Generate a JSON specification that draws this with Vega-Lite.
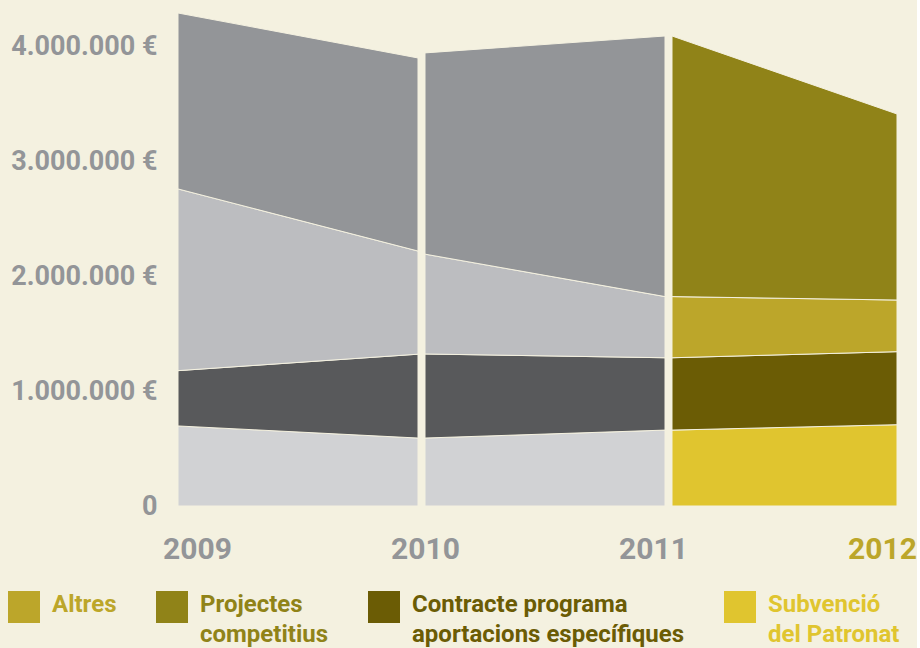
{
  "$schema": "https://vega.github.io/schema/vega-lite/v6.json",
  "background": "#f4f1e0",
  "padding": {"left": 8, "top": 0, "right": 0, "bottom": 6},
  "config": {"view": {"stroke": null}, "font": "Roboto", "style": {"guide-label": {"lineHeight": 30, "dy": 5}}},
  "data": {"values": [
    {"seg": 1, "year": 2009, "cat": "Subvenció del Patronat", "serie": "Subvenció del Patronat 2009-2011", "rank": 1, "value": 696000},
    {"seg": 1, "year": 2009, "cat": "Contracte programa aportacions específiques", "serie": "Contracte programa 2009-2011", "rank": 2, "value": 481000},
    {"seg": 1, "year": 2009, "cat": "Altres", "serie": "Altres 2009-2011", "rank": 3, "value": 1580000},
    {"seg": 1, "year": 2009, "cat": "Projectes competitius", "serie": "Projectes competitius 2009-2011", "rank": 4, "value": 1530000},
    {"seg": 1, "year": 2010, "cat": "Subvenció del Patronat", "serie": "Subvenció del Patronat 2009-2011", "rank": 1, "value": 591000},
    {"seg": 1, "year": 2010, "cat": "Contracte programa aportacions específiques", "serie": "Contracte programa 2009-2011", "rank": 2, "value": 729000},
    {"seg": 1, "year": 2010, "cat": "Altres", "serie": "Altres 2009-2011", "rank": 3, "value": 897000},
    {"seg": 1, "year": 2010, "cat": "Projectes competitius", "serie": "Projectes competitius 2009-2011", "rank": 4, "value": 1679000},
    {"seg": 2, "year": 2010, "cat": "Subvenció del Patronat", "serie": "Subvenció del Patronat 2009-2011", "rank": 1, "value": 591000},
    {"seg": 2, "year": 2010, "cat": "Contracte programa aportacions específiques", "serie": "Contracte programa 2009-2011", "rank": 2, "value": 731000},
    {"seg": 2, "year": 2010, "cat": "Altres", "serie": "Altres 2009-2011", "rank": 3, "value": 868000},
    {"seg": 2, "year": 2010, "cat": "Projectes competitius", "serie": "Projectes competitius 2009-2011", "rank": 4, "value": 1750000},
    {"seg": 2, "year": 2011, "cat": "Subvenció del Patronat", "serie": "Subvenció del Patronat 2009-2011", "rank": 1, "value": 660000},
    {"seg": 2, "year": 2011, "cat": "Contracte programa aportacions específiques", "serie": "Contracte programa 2009-2011", "rank": 2, "value": 629000},
    {"seg": 2, "year": 2011, "cat": "Altres", "serie": "Altres 2009-2011", "rank": 3, "value": 532000},
    {"seg": 2, "year": 2011, "cat": "Projectes competitius", "serie": "Projectes competitius 2009-2011", "rank": 4, "value": 2266000},
    {"seg": 3, "year": 2011, "cat": "Subvenció del Patronat", "serie": "Subvenció del Patronat", "rank": 1, "value": 660000},
    {"seg": 3, "year": 2011, "cat": "Contracte programa aportacions específiques", "serie": "Contracte programa aportacions específiques", "rank": 2, "value": 629000},
    {"seg": 3, "year": 2011, "cat": "Altres", "serie": "Altres", "rank": 3, "value": 532000},
    {"seg": 3, "year": 2011, "cat": "Projectes competitius", "serie": "Projectes competitius", "rank": 4, "value": 2266000},
    {"seg": 3, "year": 2012, "cat": "Subvenció del Patronat", "serie": "Subvenció del Patronat", "rank": 1, "value": 707000},
    {"seg": 3, "year": 2012, "cat": "Contracte programa aportacions específiques", "serie": "Contracte programa aportacions específiques", "rank": 2, "value": 635000},
    {"seg": 3, "year": 2012, "cat": "Altres", "serie": "Altres", "rank": 3, "value": 449000},
    {"seg": 3, "year": 2012, "cat": "Projectes competitius", "serie": "Projectes competitius", "rank": 4, "value": 1618000}
  ]},
  "bounds": "flush",
  "spacing": 7,
  "resolve": {"scale": {"color": "shared"}},
  "hconcat": [
    {
      "width": 240, "height": 506,
      "transform": [{"filter": "datum.seg == 1"}],
      "mark": {"type": "area", "stroke": "#f4f1e0", "strokeWidth": 1, "opacity": 1},
      "encoding": {
        "x": {"field": "year", "type": "quantitative", "scale": {"domain": [2009, 2010], "nice": false, "zero": false},
          "axis": {"values": [2009], "title": null, "grid": false, "ticks": false, "tickSize": 0, "domain": false, "labelFlush": false, "labelOverlap": false,
            "labelOffset": 19, "labelPadding": 23, "labelFont": "Roboto", "labelFontSize": 30, "labelFontWeight": "bold", "labelColor": "#939598", "format": "d"}},
        "y": {"field": "value", "type": "quantitative", "stack": "zero", "scale": {"domain": [0, 4400000], "nice": false},
          "axis": {"values": [0, 1000000, 2000000, 3000000, 4000000], "title": null, "grid": false, "ticks": false, "tickSize": 0, "domain": false,
            "labelPadding": 21, "labelOffset": -5, "labelFont": "Roboto", "labelFontSize": 27, "labelFontWeight": "bold", "labelColor": "#939598",
            "labelExpr": "datum.value == 0 ? '0' : replace(replace(format(datum.value, ','), ',', '.'), ',', '.') + ' €'"}},
        "color": {"field": "serie", "type": "nominal",
          "scale": {"domain": ["Altres", "Projectes competitius", "Contracte programa aportacions específiques", "Subvenció del Patronat", "Altres 2009-2011", "Projectes competitius 2009-2011", "Contracte programa 2009-2011", "Subvenció del Patronat 2009-2011"],
            "range": ["#bca62a", "#908318", "#6b5c05", "#e0c52f", "#bcbdc0", "#939598", "#58595b", "#d1d2d4"]},
          "legend": {"orient": "none", "legendX": -170, "legendY": 591, "direction": "horizontal", "columns": 4, "title": null,
            "values": ["Altres", "Projectes competitius", "Contracte programa aportacions específiques", "Subvenció del Patronat"],
            "symbolType": "square", "symbolSize": 1024, "symbolStrokeWidth": 0, "symbolOpacity": 1,
            "labelFont": "Roboto", "labelFontSize": 24, "labelFontWeight": "bold", "labelOffset": 12, "columnPadding": 39, "labelLimit": 400, "labelBaseline": "alphabetic", "padding": 0,
            "labelColor": {"expr": "datum.value == 'Altres' ? '#bca62a' : datum.value == 'Projectes competitius' ? '#908318' : datum.value == 'Subvenció del Patronat' ? '#e0c52f' : '#6b5c05'"},
            "labelExpr": "datum.label == 'Projectes competitius' ? ['Projectes', 'competitius'] : datum.label == 'Contracte programa aportacions específiques' ? ['Contracte programa', 'aportacions específiques'] : datum.label == 'Subvenció del Patronat' ? ['Subvenció', 'del Patronat'] : [datum.label, '']"}},
        "order": {"field": "rank", "type": "quantitative"}
      }
    },
    {
      "width": 240, "height": 506,
      "transform": [{"filter": "datum.seg == 2"}],
      "mark": {"type": "area", "stroke": "#f4f1e0", "strokeWidth": 1, "opacity": 1},
      "encoding": {
        "x": {"field": "year", "type": "quantitative", "scale": {"domain": [2010, 2011], "nice": false, "zero": false},
          "axis": {"values": [2010, 2011], "title": null, "grid": false, "ticks": false, "tickSize": 0, "domain": false, "labelFlush": false, "labelOverlap": false,
            "labelOffset": {"condition": {"test": "datum.value == 2010", "value": 0}, "value": -12},
            "labelPadding": 23, "labelFont": "Roboto", "labelFontSize": 30, "labelFontWeight": "bold", "labelColor": "#939598", "format": "d"}},
        "y": {"field": "value", "type": "quantitative", "stack": "zero", "scale": {"domain": [0, 4400000], "nice": false}, "axis": null},
        "color": {"field": "serie", "type": "nominal",
          "scale": {"domain": ["Altres", "Projectes competitius", "Contracte programa aportacions específiques", "Subvenció del Patronat", "Altres 2009-2011", "Projectes competitius 2009-2011", "Contracte programa 2009-2011", "Subvenció del Patronat 2009-2011"],
            "range": ["#bca62a", "#908318", "#6b5c05", "#e0c52f", "#bcbdc0", "#939598", "#58595b", "#d1d2d4"]}},
        "order": {"field": "rank", "type": "quantitative"}
      }
    },
    {
      "width": 225, "height": 506,
      "transform": [{"filter": "datum.seg == 3"}],
      "mark": {"type": "area", "stroke": "#f4f1e0", "strokeWidth": 1, "opacity": 1},
      "encoding": {
        "x": {"field": "year", "type": "quantitative", "scale": {"domain": [2011, 2012], "nice": false, "zero": false},
          "axis": {"values": [2012], "title": null, "grid": false, "ticks": false, "tickSize": 0, "domain": false, "labelFlush": false, "labelOverlap": false,
            "labelOffset": -15, "labelPadding": 23, "labelFont": "Roboto", "labelFontSize": 30, "labelFontWeight": "bold", "labelColor": "#bca62a", "format": "d"}},
        "y": {"field": "value", "type": "quantitative", "stack": "zero", "scale": {"domain": [0, 4400000], "nice": false}, "axis": null},
        "color": {"field": "serie", "type": "nominal",
          "scale": {"domain": ["Altres", "Projectes competitius", "Contracte programa aportacions específiques", "Subvenció del Patronat", "Altres 2009-2011", "Projectes competitius 2009-2011", "Contracte programa 2009-2011", "Subvenció del Patronat 2009-2011"],
            "range": ["#bca62a", "#908318", "#6b5c05", "#e0c52f", "#bcbdc0", "#939598", "#58595b", "#d1d2d4"]}},
        "order": {"field": "rank", "type": "quantitative"}
      }
    }
  ]
}
